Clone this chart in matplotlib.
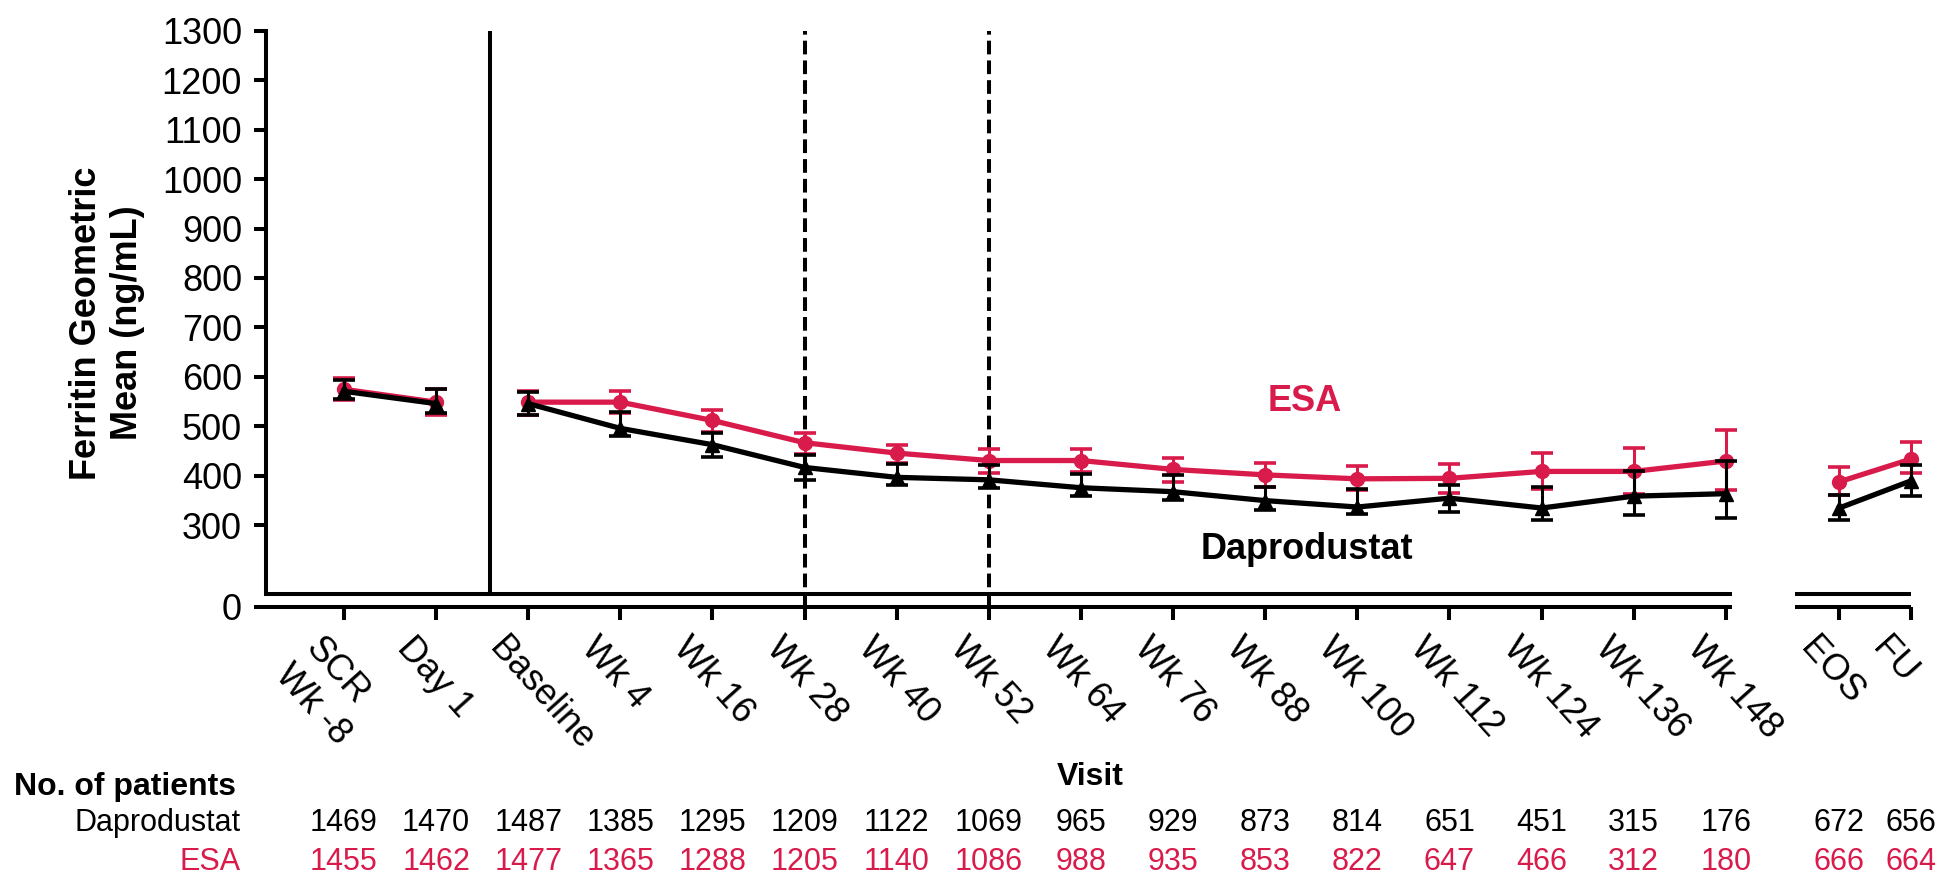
import matplotlib
matplotlib.use('Agg')
import matplotlib.pyplot as plt
import numpy as np
from matplotlib.transforms import ScaledTranslation, blended_transform_factory

plt.rcParams['font.family'] = ['Liberation Sans', 'DejaVu Sans']

# ---------------- data ----------------
visits = ["SCR\nWk -8", "Day 1", "Baseline", "Wk 4", "Wk 16", "Wk 28", "Wk 40",
          "Wk 52", "Wk 64", "Wk 76", "Wk 88", "Wk 100", "Wk 112", "Wk 124",
          "Wk 136", "Wk 148", "EOS", "FU"]

esa_mean = [575, 549, 549, 549, 512, 467, 446, 431, 431, 413, 402, 394, 395, 409, 409, 430, 388, 434]
esa_lo   = [553, 524, 523, 528, 489, 445, 426, 406, 407, 388, 378, 372, 366, 374, 364, 372, 362, 405]
esa_hi   = [597, 576, 571, 571, 534, 487, 463, 454, 454, 436, 425, 420, 423, 447, 457, 493, 417, 468]

dap_mean = [571, 546, 546, 496, 463, 417, 397, 392, 376, 368, 350, 337, 355, 335, 359, 364, 335, 390]
dap_lo   = [555, 527, 523, 481, 438, 392, 382, 376, 359, 351, 330, 322, 326, 310, 321, 314, 310, 359]
dap_hi   = [594, 575, 570, 529, 486, 442, 423, 421, 403, 401, 378, 374, 382, 377, 409, 430, 362, 421]

n_dap = [1469, 1470, 1487, 1385, 1295, 1209, 1122, 1069, 965, 929, 873, 814, 651, 451, 315, 176, 672, 656]
n_esa = [1455, 1462, 1477, 1365, 1288, 1205, 1140, 1086, 988, 935, 853, 822, 647, 466, 312, 180, 666, 664]

yticks = [300, 400, 500, 600, 700, 800, 900, 1000, 1100, 1200, 1300]

# ---------------- layout ----------------
RED = '#D81B4A'
ZERO_POS = 135      # where the "0" of the broken axis is drawn
BREAK_POS = 161     # upper line of the axis break
xpos = np.r_[np.arange(16), 16.23, 17.01]
segments = [(0, 2), (2, 16), (16, 18)]
LW_AX = 2.9

fig = plt.figure(figsize=(19.52, 8.77), dpi=100)
ax = fig.add_axes([0.1361, 0.3079, 0.8566, 0.6572])
ax.set_xlim(-0.85, 17.3)
ax.set_ylim(ZERO_POS, 1300)

# reference lines
ax.vlines(1.585, BREAK_POS, 1300, color='black', lw=LW_AX, zorder=2)
for xv in (5, 7):
    ax.vlines(xv, ZERO_POS, 1300, color='black', lw=LW_AX, linestyles=(0, (3.4, 1.5)), zorder=2)

# axis break double lines
for (a, b) in [(-0.85, 15.07), (15.75, 17.01)]:
    for yy in (ZERO_POS, BREAK_POS):
        ax.hlines(yy, a, b, color='black', lw=LW_AX, clip_on=False, zorder=3)


def draw(mean, lo, hi, color, marker, ms, z):
    mean = np.array(mean); lo = np.array(lo); hi = np.array(hi)
    ax.errorbar(xpos, mean, yerr=[mean - lo, hi - mean], fmt='none', ecolor=color,
                elinewidth=2.2, capsize=8, capthick=2.6, zorder=z)
    for a, b in segments:
        ax.plot(xpos[a:b], mean[a:b], color=color, lw=3.8, marker=marker,
                markersize=ms, zorder=z + 0.5)


draw(esa_mean, esa_lo, esa_hi, RED, 'o', 10, 4)
draw(dap_mean, dap_lo, dap_hi, 'black', '^', 10, 6)

# spines
for s in ('top', 'right', 'bottom'):
    ax.spines[s].set_visible(False)
ax.spines['left'].set_bounds(BREAK_POS, 1300)
ax.spines['left'].set_linewidth(LW_AX)

ax.set_yticks([ZERO_POS] + yticks)
ax.set_yticklabels(['0'] + [str(v) for v in yticks])
ax.tick_params(axis='y', direction='out', length=9, width=LW_AX, labelsize=26, pad=8)
ax.set_xticks(xpos)
ax.set_xticklabels(visits, rotation=-48, ha='left', va='top', rotation_mode='anchor',
                   multialignment='left')
ax.tick_params(axis='x', direction='out', length=9, width=LW_AX, labelsize=26, pad=8)
off = ScaledTranslation(-20 / 100, 0, fig.dpi_scale_trans)
for lab in ax.get_xticklabels():
    lab.set_transform(lab.get_transform() + off)

# series labels
ax.text(10.43, 551, 'ESA', color=RED, fontsize=26, fontweight='bold', ha='center', va='center')
ax.text(10.45, 252, 'Daprodustat', color='black', fontsize=26, fontweight='bold',
        ha='center', va='center')

# y label
fig.text(0.0548, 0.6317, 'Ferritin Geometric\nMean (ng/mL)', rotation=90, fontsize=26,
         fontweight='bold', ha='center', va='center', multialignment='center')

# patients table
tr = blended_transform_factory(ax.transData, fig.transFigure)
ax.text(8.1, 0.114, 'Visit', transform=tr, fontsize=23, fontweight='bold',
        ha='center', va='center')
fig.text(0.0072, 0.1026, 'No. of patients', fontsize=23, fontweight='bold', ha='left', va='center')
fig.text(0.1235, 0.0616, 'Daprodustat', fontsize=22, ha='right', va='center')
fig.text(0.1235, 0.0171, 'ESA', fontsize=22, ha='right', va='center', color=RED)
for xv, nd, ne in zip(xpos, n_dap, n_esa):
    ax.text(xv, 0.0616, str(nd), transform=tr, fontsize=22, ha='center', va='center')
    ax.text(xv, 0.0171, str(ne), transform=tr, fontsize=22, ha='center', va='center', color=RED)

fig.savefig('out.png', dpi=100)
